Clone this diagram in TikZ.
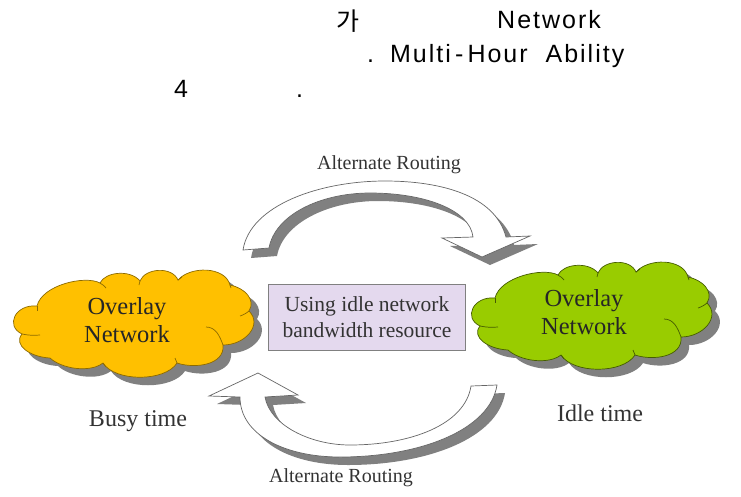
\documentclass[tikz,border=0pt]{standalone}
\usepackage{fontspec}
\setmainfont{Liberation Serif}
\newfontfamily\headfont[LetterSpace=8]{Liberation Sans}
\newfontfamily\cjk{Noto Sans CJK KR}
\definecolor{shadowgray}{HTML}{808080}
\definecolor{cloudA}{HTML}{FFC000}
\definecolor{cloudB}{HTML}{99CC00}
\definecolor{panel}{HTML}{E4D9EE}
\definecolor{inkc}{HTML}{333333}
\newcommand{\cloudshape}{
 (37,306) .. controls (42,285) and (85,275) .. (100,283)
 .. controls (105,272) and (130,269) .. (140,281)
 .. controls (145,268) and (172,266) .. (178,280)
 .. controls (190,266) and (225,266) .. (230,285)
 .. controls (245,288) and (256,300) .. (249,311)
 .. controls (263,325) and (245,345) .. (223,345)
 .. controls (225,365) and (195,369) .. (177,363)
 .. controls (165,382) and (115,382) .. (103,363)
 .. controls (90,373) and (62,369) .. (50,358)
 .. controls (30,357) and (13,345) .. (22,334)
 .. controls (5,326) and (15,304) .. (37,306) -- cycle
}
\newcommand{\cloudseams}[1]{
 \draw[seam=#1] (37,306) to[bend left=12] (37,311);
 \draw[seam=#1] (22,334) to[bend right=8] (40,335);
 \draw[seam=#1] (100,283) to[bend left=10] (106,288);
 \draw[seam=#1] (140,281) to[bend left=10] (139,285);
 \draw[seam=#1] (178,280) to[bend right=10] (182,277);
 \draw[seam=#1] (230,285) to[bend right=10] (231,288);
 \draw[seam=#1] (249,311) to[bend left=10] (240,316);
 \draw[seam=#1] (206,327) to[out=0,in=110] (223,345);
 \draw[seam=#1] (177,363) to[bend left=10] (175,358);
 \draw[seam=#1] (103,363) to[bend left=10] (106,367);
}
\newcommand{\toparrow}{
 (243,250) .. controls (250,205) and (320,181) .. (385,181)
 .. controls (440,181) and (495,195) .. (506,237)
 -- (530,236) -- (482,257) -- (442,238) -- (473,237)
 .. controls (470,210) and (425,193) .. (370,193)
 .. controls (320,193) and (275,215) .. (269,248) -- cycle
}
\newcommand{\botarrow}{
 (497,385) .. controls (490,430) and (420,457) .. (340,457)
 .. controls (285,457) and (240,435) .. (240,397)
 -- (209,396) -- (258,373) -- (298,395) -- (265,397)
 .. controls (270,425) and (310,445) .. (350,445)
 .. controls (410,445) and (465,425) .. (471,386) -- cycle
}
\tikzset{
 seam/.style={line width=0.7pt,draw=#1},
 cloudline/.style={line width=0.7pt},
 shadowfill/.style={fill=shadowgray,draw=none},
 fatarrow/.style={draw=black!60,fill=white,line width=0.7pt,line join=miter},
 routecap/.style={font=\fontsize{20}{22}\selectfont,text=inkc,inner sep=0pt},
 timecap/.style={font=\fontsize{24}{26}\selectfont,text=inkc,inner sep=0pt},
 cloudcap/.style={font=\fontsize{24.5}{28}\selectfont,text=black!85,align=center,inner sep=0pt},
 headcap/.style={font=\fontsize{25}{28}\headfont\selectfont,text=black,inner sep=0pt,anchor=base west},
}
\begin{document}
\begin{tikzpicture}[x=1pt,y=-1pt]
\useasboundingbox[fill=white] (0,0) rectangle (741,496);
% heading
\node[headcap] (h1a) at (336,30) {\cjk 가};
\node[headcap] (h1b) at (497,28) {Network};
\node[headcap] (h2) at (367,62) {.\hspace{7pt}\ Multi\,-\,Hour\ \ Ability};
\node[headcap] (h3a) at (174,97) {4};
\node[headcap] (h3b) at (296,97) {.};
% arrows
\path[shadowfill,shift={(8,8)}] \toparrow;
\path[fatarrow] \toparrow;
\path[shadowfill,shift={(8,8)}] \botarrow;
\path[fatarrow] \botarrow;
% clouds
\path[shadowfill,shift={(8,8)}] \cloudshape;
\draw[cloudline,draw=cloudA!55!black,fill=cloudA] \cloudshape;
\cloudseams{cloudA!55!black}
\begin{scope}[shift={(458,-8)}]
\path[shadowfill,shift={(8,8)}] \cloudshape;
\draw[cloudline,draw=cloudB!45!black,fill=cloudB] \cloudshape;
\cloudseams{cloudB!45!black}
\end{scope}
% panel
\node[draw=black!50,fill=panel,line width=1pt,minimum width=197pt,minimum height=66pt,inner sep=0pt,
 align=center,font=\fontsize{21.5}{26}\selectfont,text=inkc] (usage) at (367,317) {Using idle network\\bandwidth resource};
% texts
\node[cloudcap] (left) at (127,320) {Overlay\\Network};
\node[cloudcap] (right) at (584,312) {Overlay\\Network};
\node[routecap] (t1) at (389,165) {Alternate Routing};
\node[routecap] (t2) at (341,478) {Alternate Routing};
\node[timecap] (busy) at (138,421) {Busy time};
\node[timecap] (idle) at (600,413) {Idle time};
\end{tikzpicture}
\end{document}
